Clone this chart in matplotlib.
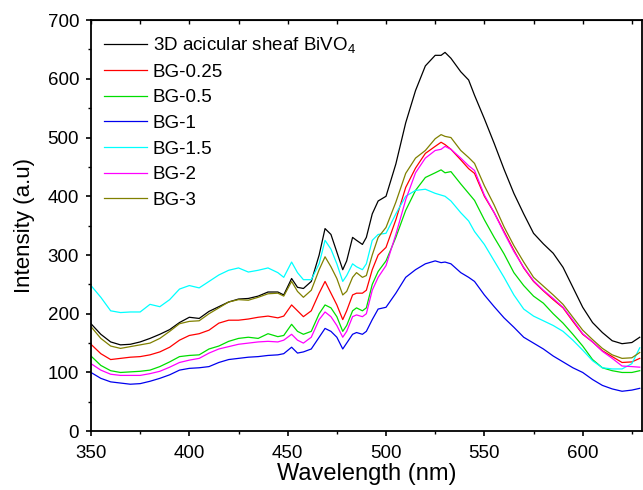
import matplotlib
matplotlib.use("Agg")
import matplotlib.pyplot as plt
from matplotlib.ticker import MultipleLocator

plt.rcParams['font.family'] = ['Liberation Sans', 'DejaVu Sans']
plt.rcParams['mathtext.fontset'] = 'custom'
plt.rcParams['mathtext.rm'] = 'Liberation Sans'
plt.rcParams['mathtext.it'] = 'Liberation Sans'

wavelength = [350, 355, 360, 365, 370, 375, 380, 385, 390, 395, 400, 405, 410, 415, 420, 425,
              430, 435, 440, 445, 448, 452, 455, 458, 462, 466, 469, 472, 475, 478, 480, 483,
              485, 488, 490, 493, 496, 500, 505, 510, 515, 520, 525, 528, 530, 533, 538, 542,
              545, 550, 555, 560, 565, 570, 575, 580, 585, 590, 595, 600, 605, 610, 615, 620,
              625, 629]

bivo4 = [183, 165, 152, 147, 148, 152, 158, 165, 173, 185, 194, 192, 204, 212, 220, 225,
         226, 230, 237, 237, 232, 260, 245, 243, 255, 300, 345, 335, 305, 275, 290, 330,
         325, 318, 330, 370, 392, 400, 455, 525, 580, 622, 640, 640, 645, 635, 612, 598,
         572, 532, 490, 446, 405, 370, 337, 319, 303, 279, 245, 211, 185, 168, 154, 149,
         151, 160]

bg_025 = [148, 132, 122, 124, 126, 127, 130, 135, 143, 155, 163, 166, 172, 184, 189, 189,
          191, 194, 196, 193, 196, 215, 205, 195, 205, 235, 255, 235, 215, 190, 205, 232,
          235, 235, 240, 275, 300, 313, 360, 415, 448, 473, 485, 492, 488, 480, 462, 447,
          439, 400, 372, 340, 308, 278, 255, 239, 224, 210, 187, 165, 152, 137, 127, 117,
          118, 124]

bg_05 = [128, 112, 103, 100, 101, 102, 104, 110, 118, 127, 129, 130, 140, 145, 153, 158,
         160, 158, 166, 161, 163, 182, 170, 165, 170, 200, 215, 210, 195, 170, 180, 205,
         210, 205, 210, 250, 272, 290, 330, 376, 410, 432, 440, 445, 440, 442, 421, 405,
         393, 360, 330, 302, 270, 248, 230, 218, 200, 184, 165, 145, 122, 108, 103, 100,
         100, 103]

bg_1 = [100, 90, 84, 82, 80, 81, 85, 90, 96, 104, 107, 108, 110, 117, 122, 124,
        126, 127, 129, 130, 132, 143, 133, 135, 140, 160, 175, 170, 160, 140, 150, 165,
        168, 165, 170, 190, 208, 211, 235, 262, 275, 285, 290, 287, 288, 285, 270, 262,
        255, 232, 212, 193, 177, 160, 150, 140, 128, 118, 108, 100, 88, 78, 72, 68,
        70, 73]

bg_15 = [248, 228, 205, 202, 203, 203, 216, 212, 224, 242, 248, 244, 255, 266, 274, 278,
         271, 274, 278, 270, 262, 288, 270, 258, 258, 285, 325, 310, 285, 255, 265, 285,
         280, 275, 285, 325, 335, 337, 370, 400, 410, 412, 405, 402, 400, 392, 372, 358,
         340, 318, 290, 262, 232, 208, 196, 188, 180, 170, 155, 138, 120, 108, 106, 106,
         115, 142]

bg_2 = [115, 104, 97, 95, 95, 95, 98, 102, 109, 117, 121, 124, 133, 140, 144, 148,
        150, 152, 153, 152, 155, 165, 155, 150, 160, 190, 203, 195, 180, 160, 170, 195,
        198, 195, 200, 240, 262, 282, 335, 394, 440, 465, 478, 480, 485, 480, 465, 452,
        444, 402, 372, 338, 306, 279, 256, 240, 226, 211, 189, 166, 152, 136, 124, 111,
        110, 109]

bg_3 = [178, 158, 145, 141, 144, 147, 150, 158, 170, 183, 187, 188, 200, 210, 220, 224,
        223, 228, 234, 235, 230, 255, 238, 228, 240, 275, 297, 280, 260, 232, 238, 262,
        270, 262, 265, 300, 330, 347, 390, 439, 465, 478, 498, 505, 502, 500, 478, 466,
        456, 418, 385, 348, 316, 288, 262, 247, 232, 216, 194, 172, 156, 141, 130, 124,
        125, 134]

series = [
    ("3D acicular sheaf BiVO$_4$", bivo4, "#000000"),
    ("BG-0.25", bg_025, "#ff0000"),
    ("BG-0.5", bg_05, "#00dd00"),
    ("BG-1", bg_1, "#0000ee"),
    ("BG-1.5", bg_15, "#00ffff"),
    ("BG-2", bg_2, "#ff00ff"),
    ("BG-3", bg_3, "#808000"),
]

fig = plt.figure(figsize=(6.43, 4.90), dpi=100)
ax = fig.add_axes([0.1415, 0.12, 0.8565, 0.839])

for label, vals, color in series:
    ax.plot(wavelength, vals, color=color, lw=0.9, label=label)

ax.set_xlim(350, 630)
ax.set_ylim(0, 700)
ax.xaxis.set_major_locator(MultipleLocator(50))
ax.xaxis.set_minor_locator(MultipleLocator(25))
ax.yaxis.set_major_locator(MultipleLocator(100))
ax.yaxis.set_minor_locator(MultipleLocator(50))
ax.tick_params(which='major', direction='out', length=3.6, width=1.2, labelsize=13.5, pad=5)
ax.tick_params(axis='x', which='major', pad=6)
ax.tick_params(which='minor', direction='out', length=2.2, width=1.0)
for s in ax.spines.values():
    s.set_linewidth(1.3)

top = ax.secondary_xaxis('top')
top.xaxis.set_major_locator(MultipleLocator(50))
top.xaxis.set_minor_locator(MultipleLocator(25))
top.tick_params(which='both', direction='in', length=3, width=1.0, labeltop=False)

ax.set_xlabel("Wavelength (nm)", fontsize=17, labelpad=1)
ax.set_ylabel("Intensity (a.u)", fontsize=16, labelpad=9)

leg = ax.legend(loc='upper left', frameon=False, fontsize=13.5, handlelength=2.3,
                handletextpad=0.3, labelspacing=0.45, borderaxespad=0.3,
                bbox_to_anchor=(0.0, 0.995))

fig.savefig("out.png", dpi=100)
